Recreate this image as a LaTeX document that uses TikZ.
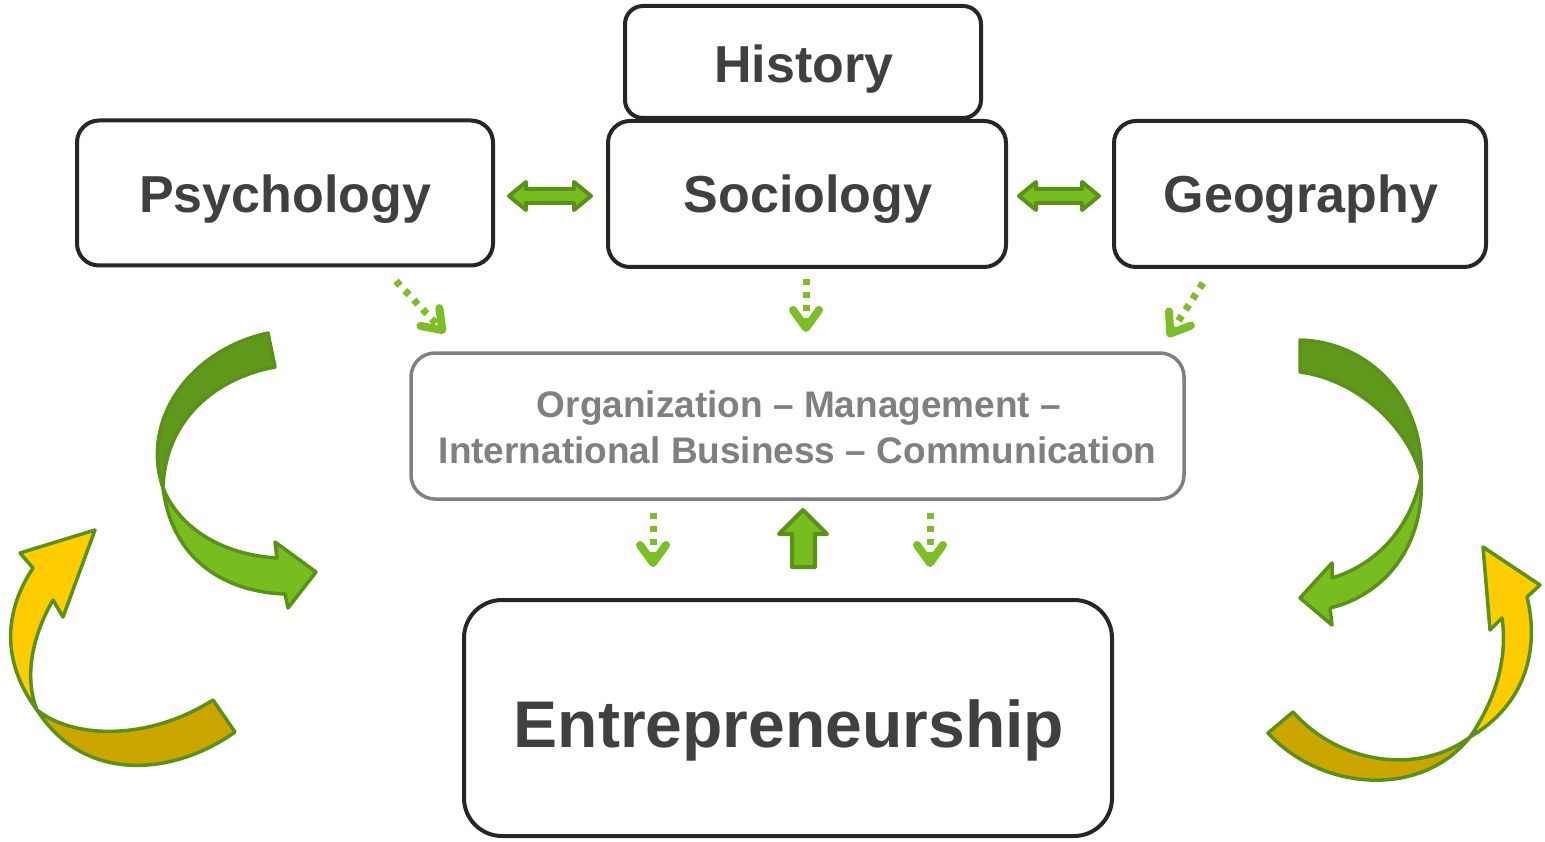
\documentclass[tikz,border=0pt]{standalone}
\usepackage{fontspec}
\setmainfont{Liberation Sans}
\usetikzlibrary{arrows.meta}
\definecolor{textdark}{HTML}{404040}
\definecolor{boxline}{HTML}{262626}
\definecolor{midgray}{HTML}{808080}
\definecolor{darkout}{HTML}{5A9217}
\definecolor{greendark}{HTML}{5F981A}
\definecolor{greenlight}{HTML}{78BD20}
\definecolor{dotgreen}{HTML}{7ABF26}
\definecolor{yel}{HTML}{FFCC00}
\definecolor{yeldark}{HTML}{CCA600}
\begin{document}
\begin{tikzpicture}[x=1pt,y=-1pt,
  box/.style={draw=boxline, line width=4pt, rounded corners=22pt, fill=white, inner sep=0pt},
  midbox/.style={draw=midgray, line width=3.5pt, rounded corners=24pt, fill=white, inner sep=0pt},
  lbl/.style={font=\bfseries\fontsize{52}{60}\selectfont, text=textdark, inner sep=0pt, anchor=base},
  biglbl/.style={font=\bfseries\fontsize{66}{76}\selectfont, text=textdark, inner sep=0pt, anchor=base},
  midlbl/.style={font=\bfseries\fontsize{37}{45}\selectfont, text=midgray, inner sep=0pt, anchor=base},
  dotarr/.style={draw=dotgreen, line width=7pt, dash pattern=on 6pt off 7pt,
    -{Straight Barb[length=18pt,width=26pt,line width=8pt,round]}},
  blockarrow/.style={draw=darkout, fill=greenlight, line width=4pt, line join=round},
  ribdark/.style={draw=darkout, fill=greendark, line width=3.5pt, line join=round},
  riblight/.style={draw=darkout, fill=greenlight, line width=3.5pt, line join=round},
  ribyel/.style={draw=darkout, fill=yel, line width=3.5pt, line join=round},
  ribyeldark/.style={draw=darkout, fill=yeldark, line width=3.5pt, line join=round}]
\useasboundingbox (0,0) rectangle (1545,842);

% boxes
\node[box, minimum width=356pt, minimum height=112pt, rounded corners=18pt] (hist) at (803,62) {};
\node[box, minimum width=416pt, minimum height=145pt] (psy) at (285,193) {};
\node[box, minimum width=398pt, minimum height=146pt] (soc) at (807,194) {};
\node[box, minimum width=372pt, minimum height=146pt] (geo) at (1300,194) {};
\node[midbox, minimum width=773pt, minimum height=146pt] (mid) at (797.5,426) {};
\node[box, minimum width=648pt, minimum height=236pt, rounded corners=38pt] (ent) at (788,718) {};

% labels
\node[lbl] (histT) at (804,83) {History};
\node[lbl] (psyT) at (285,213) {Psychology};
\node[lbl] (socT) at (808,213) {Sociology};
\node[lbl] (geoT) at (1301,213) {Geography};
\node[midlbl] (midT1) at (799,417) {Organization – Management –};
\node[midlbl] (midT2) at (797.5,463) {International Business – Communication};
\node[biglbl] (entT) at (789,747) {Entrepreneurship};

% double arrows
\draw[blockarrow] (509,196) -- (526,182) -- (526,189) -- (574,189) -- (574,182) -- (591,196)
  -- (574,210) -- (574,203) -- (526,203) -- (526,210) -- cycle;
\draw[blockarrow] (1019,196) -- (1036,182) -- (1036,189) -- (1082,189) -- (1082,182) -- (1099,196)
  -- (1082,210) -- (1082,203) -- (1036,203) -- (1036,210) -- cycle;

% up block arrow
\draw[blockarrow] (803,510) -- (827,534) -- (815,534) -- (815,567) -- (792,567) -- (792,534) -- (779,534) -- cycle;

% dotted arrows
\coordinate (psyS) at (396,281); \coordinate (psyE) at (445,333);
\coordinate (socS) at (806,279); \coordinate (socE) at (806,332);
\coordinate (geoS) at (1203,283); \coordinate (geoE) at (1168,337);
\coordinate (m1S) at (653,513); \coordinate (m1E) at (653,567);
\coordinate (m2S) at (930,513); \coordinate (m2E) at (930,567);
\draw[dotarr] (psyS) -- (psyE);
\draw[dotarr] (socS) -- (socE);
\draw[dotarr] (geoS) -- (geoE);
\draw[dotarr] (m1S) -- (m1E);
\draw[dotarr] (m2S) -- (m2E);

% left green curved arrow
\draw[ribdark] (268,333) -- (275,367) .. controls (215,378) and (165,420) .. (163,488)
  .. controls (140,420) and (190,350) .. (268,333) -- cycle;
\draw[riblight] (163,488) .. controls (172,560) and (225,592) .. (285,594) -- (288,608) -- (316,572)
  -- (275,542) -- (277,558) .. controls (225,555) and (180,530) .. (163,488) -- cycle;

% left yellow curved arrow
\draw[ribyeldark] (213,700) -- (235,732) .. controls (175,775) and (85,785) .. (37,710)
  .. controls (75,740) and (150,740) .. (213,700) -- cycle;
\draw[ribyel] (37,710) .. controls (0,660) and (5,610) .. (33,568) -- (20,553) -- (95,530) -- (63,617)
  -- (53,600) .. controls (30,640) and (25,680) .. (37,710) -- cycle;

% right green curved arrow
\draw[ribdark] (1300,340) .. controls (1370,342) and (1425,400) .. (1421,477)
  .. controls (1410,430) and (1360,380) .. (1300,372) -- cycle;
\draw[riblight] (1421,477) .. controls (1425,545) and (1385,595) .. (1330,608) -- (1332,625) -- (1300,598)
  -- (1332,563) -- (1332,578) .. controls (1375,565) and (1410,530) .. (1421,477) -- cycle;

% right yellow curved arrow
\draw[ribyeldark] (1293,712) -- (1268,733) .. controls (1320,790) and (1420,800) .. (1470,737)
  .. controls (1420,775) and (1340,765) .. (1293,712) -- cycle;
\draw[ribyel] (1470,737) .. controls (1495,700) and (1508,660) .. (1502,618) -- (1490,630) -- (1483,547)
  -- (1540,585) -- (1527,597) .. controls (1540,650) and (1525,705) .. (1470,737) -- cycle;
\end{tikzpicture}
\end{document}
